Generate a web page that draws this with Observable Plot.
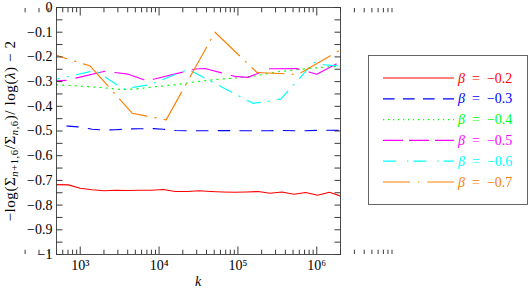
<!DOCTYPE html>
<html><head><meta charset="utf-8">
<script src="https://cdn.jsdelivr.net/npm/d3@7"></script>
<script src="https://cdn.jsdelivr.net/npm/@observablehq/plot@0.6"></script>
<style>
html,body{margin:0;padding:0;background:#fff;}
#chart{width:530px;height:289px;}
</style></head><body><div id="chart"></div>
<script>
// ---- data ----
const betaLabels = ["−0.2", "−0.3", "−0.4", "−0.5", "−0.6", "−0.7"];
const seriesColors = ["#ff0000", "#0000ff", "#00ff00", "#ff00ff", "#00ffff", "#ff8000"];

const kGrid = [500, 707, 1000, 1414, 2000, 2828, 4000, 5657, 8000, 11314, 16000, 22627, 32000,
  45255, 64000, 90510, 128000, 181019, 256000, 362039, 512000, 724077, 1024000, 1448155, 2048000];

const vRed = [-0.717, -0.718, -0.732, -0.738, -0.742, -0.740, -0.741, -0.740, -0.740, -0.737, -0.745, -0.745,
  -0.742, -0.745, -0.747, -0.748, -0.747, -0.745, -0.752, -0.747, -0.756, -0.749, -0.760, -0.748, -0.764];
const vBlue = [-0.479, -0.480, -0.484, -0.493, -0.496, -0.495, -0.492, -0.491, -0.490, -0.493, -0.498, -0.499,
  -0.499, -0.499, -0.498, -0.499, -0.499, -0.499, -0.499, -0.498, -0.499, -0.499, -0.497, -0.497, -0.498];

const kGreen = [500, 1000, 2014, 3212, 4968, 7695, 15950, 30290, 54250, 100000, 164100, 340400, 665600, 1191000, 2000000];
const vGreen = [-0.313, -0.318, -0.325, -0.332, -0.330, -0.323, -0.313, -0.300, -0.291, -0.285, -0.277, -0.259, -0.249, -0.242, -0.238];

const kMagenta = [500, 666, 2073, 4052, 7047, 28560, 38260, 91640, 133900, 254300, 558500, 1000000, 2000000];
const vMagenta = [-0.297, -0.295, -0.258, -0.270, -0.297, -0.249, -0.247, -0.279, -0.283, -0.248, -0.247, -0.270, -0.220];

const kCyan = [500, 1548, 3504, 7695, 23300, 155000, 239900, 350700, 916600, 1264000, 2000000];
const vCyan = [-0.290, -0.255, -0.330, -0.312, -0.250, -0.388, -0.380, -0.370, -0.222, -0.232, -0.237];

const kOrange = [500, 1339, 4550, 12280, 51170, 174200, 575400, 2000000];
const vOrange = [-0.194, -0.237, -0.428, -0.455, -0.100, -0.263, -0.271, -0.172];

const xTickValues = [1e3, 1e4, 1e5, 1e6];
const xTickLabels = ["10³", "10⁴", "10⁵", "10⁶"];
const yTickValues = [-1, -0.9, -0.8, -0.7, -0.6, -0.5, -0.4, -0.3, -0.2, -0.1, 0];
const yTickLabels = ["−1", "−0.9", "−0.8", "−0.7", "−0.6", "−0.5", "−0.4", "−0.3", "−0.2", "−0.1", "0"];

// ---- build table ----
const seriesK = [kGrid, kGrid, kGreen, kMagenta, kCyan, kOrange];
const seriesV = [vRed, vBlue, vGreen, vMagenta, vCyan, vOrange];
const rows = [];
seriesK.forEach((ks, s) => ks.forEach((k, i) => rows.push({k, v: seriesV[s][i], s})));

// styles
const plotDash = [null, "11.5,10.2", "1.2,5", "30,10", "14,8,1.3,8", "34,8,1.3,8"];
const plotDashOffset = [0, 11.5, 0, 20.5, 11, 23];
const legendDash = [null, "11.7,8.3", "1.2,3.8", "20,6", "13,11,1.3,5", "27,8,1.3,8"];

// tick positions (decade minor ticks)
const xMinor = [];
for (const d of [100, 1000, 10000, 100000, 1000000]) for (let m = 2; m <= 9; m++) xMinor.push(m * d);
const yAll = d3.range(-1, 0.0001, 0.05);

const font = "Liberation Serif";
const marks = [];
for (let s = 0; s < 6; s++) {
  marks.push(Plot.line(rows.filter(r => r.s === s), {
    x: "k", y: "v", stroke: seriesColors[s], strokeWidth: 1.15,
    strokeDasharray: plotDash[s] ?? undefined, strokeDashoffset: plotDashOffset[s],
    clip: true
  }));
}
const blank = () => "";
marks.push(
  Plot.frame({stroke: "#3a3a3a", strokeWidth: 0.9}),
  Plot.axisY({anchor: "left", ticks: yTickValues, tickSize: 0, tickPadding: 4,
    tickFormat: (d) => yTickLabels[yTickValues.indexOf(d)], label: null}),
  Plot.axisY({anchor: "left", ticks: yAll, tickSize: -6.5, tickFormat: blank, label: null, stroke: "#3a3a3a"}),
  Plot.axisY({anchor: "right", ticks: yAll, tickSize: -6.5, tickFormat: blank, label: null, stroke: "#3a3a3a"}),
  Plot.axisX({anchor: "bottom", ticks: xTickValues, tickSize: 0, tickPadding: 6,
    tickFormat: d => xTickLabels[xTickValues.indexOf(d)], label: null}),
  Plot.axisX({anchor: "bottom", ticks: xTickValues, tickSize: -7.5, tickFormat: blank, label: null, stroke: "#3a3a3a"}),
  Plot.axisX({anchor: "bottom", ticks: xMinor, tickSize: -4.3, tickFormat: blank, label: null, stroke: "#3a3a3a"}),
  Plot.axisX({anchor: "top", ticks: xTickValues, tickSize: -7.5, tickFormat: blank, label: null, stroke: "#3a3a3a"}),
  Plot.axisX({anchor: "top", ticks: xMinor, tickSize: -4.3, tickFormat: blank, label: null, stroke: "#3a3a3a"})
);

const chart = Plot.plot({
  width: 530, height: 289,
  marginLeft: 56, marginRight: 190, marginTop: 7, marginBottom: 35,
  style: {fontFamily: font, fontSize: "14px", background: "#fff", color: "#000", overflow: "visible"},
  x: {type: "log", domain: [500, 2e6]},
  y: {domain: [-1, 0]},
  marks
});
document.getElementById("chart").appendChild(chart);

// ---- axis titles and legend ----
const svg = d3.select(chart);
const yl = svg.append("text")
  .attr("transform", "translate(15,131) rotate(-90)")
  .attr("text-anchor", "middle")
  .attr("font-family", font).attr("font-size", 15).attr("letter-spacing", 0.6).attr("fill", "#000");
yl.append("tspan").text("−log(Σ");
yl.append("tspan").attr("dy", 3).attr("font-size", 10.5).attr("font-style", "italic").text("n");
yl.append("tspan").attr("font-size", 10.5).text("+1,6");
yl.append("tspan").attr("dy", -3).text("/Σ");
yl.append("tspan").attr("dy", 3).attr("font-size", 10.5).attr("font-style", "italic").text("n");
yl.append("tspan").attr("font-size", 10.5).text(",6");
yl.append("tspan").attr("dy", -3).text(")/ log(");
yl.append("tspan").attr("font-style", "italic").text("λ");
yl.append("tspan").text(") − 2");

svg.append("text").attr("x", 198).attr("y", 286).attr("text-anchor", "middle")
  .attr("font-family", font).attr("font-size", 14).attr("font-style", "italic").text("k");

const lg = svg.append("g");
lg.append("rect").attr("x", 368.5).attr("y", 55.5).attr("width", 159).attr("height", 149)
  .attr("fill", "#fff").attr("stroke", "#555").attr("stroke-width", 0.9);
betaLabels.forEach((b, i) => {
  const y = 78 + i * 20.8;
  lg.append("line").attr("x1", 383).attr("x2", 454).attr("y1", y).attr("y2", y)
    .attr("stroke", seriesColors[i]).attr("stroke-width", 1.2)
    .attr("stroke-dasharray", legendDash[i]);
  const t = lg.append("text").attr("x", 458).attr("y", y + 4.5).attr("text-anchor", "start")
    .attr("font-family", font).attr("font-size", 14).attr("fill", seriesColors[i]);
  t.append("tspan").attr("font-style", "italic").text("β");
  t.append("tspan").text("\u2002=\u2002" + b);
});
</script>
</body></html>
